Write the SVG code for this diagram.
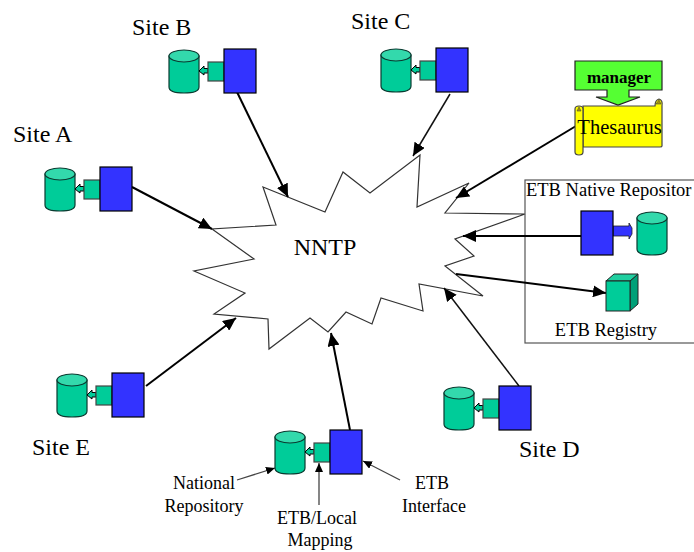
<svg xmlns="http://www.w3.org/2000/svg" width="694" height="552" viewBox="0 0 694 552">
<style>
text{font-family:"Liberation Serif","Times New Roman",serif;fill:#000}
.t20{font-size:24px}.t16{font-size:18px}
.teal{fill:#00cc99;stroke:#0a3a30;stroke-width:1.2}
.top{fill:#33d9ac;stroke:#0a3a30;stroke-width:1.2}
.blue{fill:#3333ff;stroke:#000;stroke-width:1.2}
.box{fill:#00cc99;stroke:#444;stroke-width:1.2}
.c{fill:none;stroke:#000;stroke-width:2}
.c1{fill:none;stroke:#111;stroke-width:1.5}
.g{fill:none;stroke:#444;stroke-width:1.3}
</style>
<defs>
<marker id="a" markerUnits="userSpaceOnUse" markerWidth="14" markerHeight="12" refX="13" refY="6" orient="auto"><path d="M0 0L13 6L0 12Z" fill="#000"/></marker>
<marker id="s" markerUnits="userSpaceOnUse" markerWidth="10" markerHeight="8" refX="9" refY="4" orient="auto"><path d="M0 0L9 4L0 8Z" fill="#000"/></marker>
<g id="cyl">
<path class="teal" d="M0 7V38Q0 44 15 44T30 38V7Z"/>
<ellipse class="top" cx="15" cy="7" rx="15" ry="6"/>
</g>
<g id="site">
<use href="#cyl"/>
<path d="M39 19.500H35V17L30 22L35 26V24H39Z" fill="#00cc99" stroke="#000" stroke-width="1"/>
<rect class="box" x="39" y="13" width="16" height="19"/>
<rect class="blue" x="55" y="0" width="32" height="44"/>
</g>
</defs>
<g id="cloud">
<path fill="#fff" stroke="#333" stroke-width="1.2" d="M263 187L325 212L343 172L370 193L420 155L417 207L469 183L445 213L525 214L455 239L474 256L445 266L483 296L419 284L423 311L381 298L372 324L346 312L328 332L310 318L269 349L268 319L214 314L245 293L194 271L254 259L212 229L276 225Z"/>
<text x="325" y="255" text-anchor="middle" style="font-size:24px">NNTP</text>
</g>
<g id="etb-frame">
<rect x="525" y="180" width="175" height="163" fill="none" stroke="#555" stroke-width="1.2"/>
</g>
<g id="connectors">
<path class="c" marker-end="url(#a)" d="M132 187L212 229"/>
<path class="c" marker-end="url(#a)" d="M237 92L288 197"/>
<path class="c1" marker-end="url(#a)" d="M450 94L413 156"/>
<path class="c" marker-end="url(#a)" d="M576 126L456 198"/>
<path class="c" marker-end="url(#a)" d="M581 236L463 236"/>
<path class="c" marker-end="url(#a)" d="M456 274L606 293"/>
<path class="c1" marker-end="url(#a)" d="M519 386L444 288"/>
<path class="c" marker-end="url(#a)" d="M146 386L236 318"/>
<path class="c" marker-end="url(#a)" d="M350 430L331 333"/>
<path class="g" marker-end="url(#s)" d="M237 480L275 468"/>
<path class="g" marker-end="url(#s)" d="M319 505V463"/>
<path class="g" marker-end="url(#s)" d="M400 480L363 461"/>
</g>
<g id="site-a"><use href="#site" x="45" y="167"/><text class="t20" x="13" y="142">Site A</text></g>
<g id="site-b"><use href="#site" x="169" y="49"/><text class="t20" x="132" y="35">Site B</text></g>
<g id="site-c"><use href="#site" x="381" y="48"/><text class="t20" x="351" y="29">Site C</text></g>
<g id="site-d"><use href="#site" x="444" y="386"/><text class="t20" x="519" y="457">Site D</text></g>
<g id="site-e"><use href="#site" x="57" y="373"/><text class="t20" x="32" y="455">Site E</text></g>
<g id="local-site"><use href="#site" x="275" y="430"/>
<text class="t16" text-anchor="middle" x="204" y="489">National</text>
<text class="t16" text-anchor="middle" x="204" y="512">Repository</text>
<text class="t16" text-anchor="middle" x="317" y="524">ETB/Local</text>
<text class="t16" text-anchor="middle" x="320" y="546">Mapping</text>
<text class="t16" text-anchor="middle" x="432" y="489">ETB</text>
<text class="t16" text-anchor="middle" x="434" y="512">Interface</text>
</g>
<g id="manager">
<path fill="#55ff33" stroke="#222" stroke-width="1.2" d="M575 61H662V90H629V97H640L618 105L596 97H607V90H575Z"/>
<text x="619" y="83" text-anchor="middle" style="font-size:17px;font-weight:bold">manager</text>
</g>
<g id="thesaurus">
<path fill="#ffff00" stroke="#444" stroke-width="1.2" d="M583 106H655Q655 100 659 99Q663 100 662 106V146Q662 147 660 147H583Z"/>
<path fill="#ffff00" stroke="#444" stroke-width="1.2" d="M575 109Q575 106 579 106Q583 106 583 109V152Q583 155 579 155Q575 155 575 152Z"/>
<path d="M577 111L579 107L581 111Z M656 104L659 100L661 104Z" fill="#aa9900" stroke="#444" stroke-width="0.6"/>
<text x="619.500" y="134" text-anchor="middle" style="font-size:20.500px">Thesaurus</text>
</g>
<g id="etb-native">
<text x="526" y="196" style="font-size:18.500px">ETB Native Repositor</text>
<path d="M613 226H629V223L632 228V234L629 239V236H613Z" fill="#3333ff" stroke="#222" stroke-width="0.8"/>
<rect class="blue" x="581" y="211" width="32" height="44"/>
<use href="#cyl" x="637" y="211"/>
</g>
<g id="etb-registry">
<path d="M630 281L638 274V304L630 311Z" fill="#00a078" stroke="#222" stroke-width="1"/>
<path d="M606 281L614 274H638L630 281Z" fill="#20cfa0" stroke="#222" stroke-width="1"/>
<rect x="606" y="281" width="24" height="30" fill="#00cc99" stroke="#222" stroke-width="1"/>
<text x="606" y="336" text-anchor="middle" style="font-size:18.500px">ETB Registry</text>
</g>
</svg>
